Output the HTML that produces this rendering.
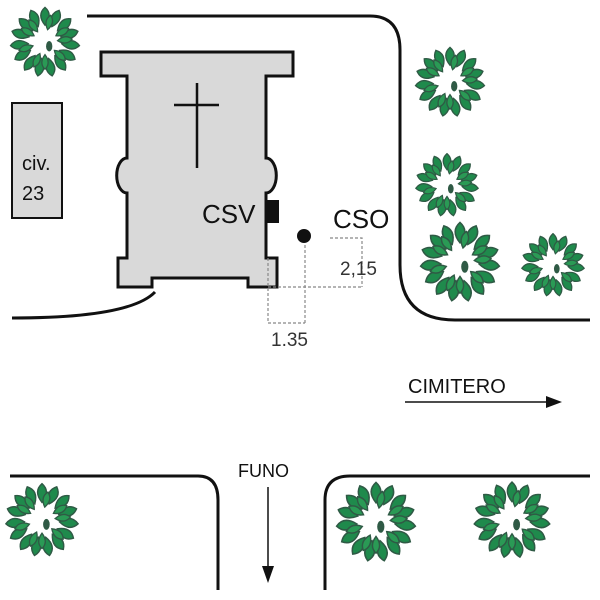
<!DOCTYPE html>
<html><head><meta charset="utf-8"><style>html,body{margin:0;padding:0;background:#fff}svg{display:block}</style></head><body>
<svg width="600" height="600" viewBox="0 0 600 600" xmlns="http://www.w3.org/2000/svg" font-family="Liberation Sans, sans-serif">
<defs>
<path id="lf" d="M0 -33 Q8 -26 0 -16 Q-8 -26 0 -33 Z"/>
<path id="lf2" d="M0 -26 Q6 -20 0 -12 Q-6 -20 0 -26 Z"/>
<g id="t">
<g fill="#1f8a4c" stroke="#2f5a45" stroke-width="1.3">
<use href="#lf" transform="rotate(0)"/><use href="#lf" transform="rotate(24)"/><use href="#lf" transform="rotate(48)"/>
<use href="#lf" transform="rotate(72)"/><use href="#lf" transform="rotate(96)"/><use href="#lf" transform="rotate(120)"/>
<use href="#lf" transform="rotate(144)"/><use href="#lf" transform="rotate(168)"/><use href="#lf" transform="rotate(192)"/>
<use href="#lf" transform="rotate(216)"/><use href="#lf" transform="rotate(240)"/><use href="#lf" transform="rotate(264)"/>
<use href="#lf" transform="rotate(288)"/><use href="#lf" transform="rotate(312)"/><use href="#lf" transform="rotate(336)"/>
</g>
<g fill="#2a9a55" stroke="#2f5a45" stroke-width="1.2">
<use href="#lf2" transform="rotate(12)"/><use href="#lf2" transform="rotate(60)"/><use href="#lf2" transform="rotate(84)"/>
<use href="#lf2" transform="rotate(132)"/><use href="#lf2" transform="rotate(180)"/><use href="#lf2" transform="rotate(204)"/>
<use href="#lf2" transform="rotate(252)"/><use href="#lf2" transform="rotate(300)"/><use href="#lf2" transform="rotate(324)"/>
</g>
<ellipse cx="4" cy="4" rx="3" ry="5" fill="#2f5a45"/>
</g>
</defs>
<g fill="none" stroke="#111" stroke-width="3">
<path d="M87 16 H370 Q400 16 400 50 V265 Q400 320 455 320 H590"/>
<path d="M155 292 Q130 318 12 318"/>
<path d="M10 476 H198 Q218 476 218 500 V590"/>
<path d="M325 590 V500 Q325 476 350 476 H590"/>
</g>
<rect x="12" y="103" width="50" height="115" fill="#d9d9d9" stroke="#111" stroke-width="2"/>
<text x="22" y="170" font-size="20" fill="#111">civ.</text>
<text x="22" y="200" font-size="20" fill="#111">23</text>
<path d="M101 52 H293 V76 H266 V158 A10 17 0 0 1 266 193 V258 H277 V287 H248 V278 H152 V287 H118 V258 H127 V193 A10 17 0 0 1 127 158 V76 H101 Z" fill="#d9d9d9" stroke="#111" stroke-width="3"/>
<g stroke="#111" stroke-width="2.5"><line x1="197" y1="83" x2="197" y2="168"/><line x1="174" y1="105" x2="219" y2="105"/></g>
<rect x="267" y="200" width="12" height="23" fill="#111"/>
<text x="202" y="223" font-size="26" fill="#111">CSV</text>
<text x="333" y="228" font-size="26" fill="#111">CSO</text>
<circle cx="304" cy="236" r="7" fill="#111"/>
<g stroke="#888" stroke-width="1.2" stroke-dasharray="3,2" fill="none">
<path d="M330 238 H362 V287 M268 287 H362 M268 258 V323 M305 245 V323 M268 323 H305"/>
</g>
<text x="340" y="275" font-size="19" fill="#333">2,15</text>
<text x="271" y="346" font-size="19" fill="#333">1.35</text>
<text x="408" y="393" font-size="20" fill="#111">CIMITERO</text>
<line x1="405" y1="402" x2="550" y2="402" stroke="#111" stroke-width="1.5"/>
<path d="M562 402 L546 396 L546 408 Z" fill="#111"/>
<text x="238" y="477" font-size="18" fill="#111">FUNO</text>
<line x1="268" y1="487" x2="268" y2="570" stroke="#111" stroke-width="1.5"/>
<path d="M268 583 L262 566 L274 566 Z" fill="#111"/>
<use href="#t" transform="translate(45,42) scale(1.05)"/>
<use href="#t" transform="translate(450,82) scale(1.05)"/>
<use href="#t" transform="translate(447,185) scale(0.95)"/>
<use href="#t" transform="translate(460,262) scale(1.2)"/>
<use href="#t" transform="translate(553,265) scale(0.95)"/>
<use href="#t" transform="translate(42,520) scale(1.1)"/>
<use href="#t" transform="translate(376,522) scale(1.2)"/>
<use href="#t" transform="translate(512,520) scale(1.15)"/>
</svg>
</body></html>
